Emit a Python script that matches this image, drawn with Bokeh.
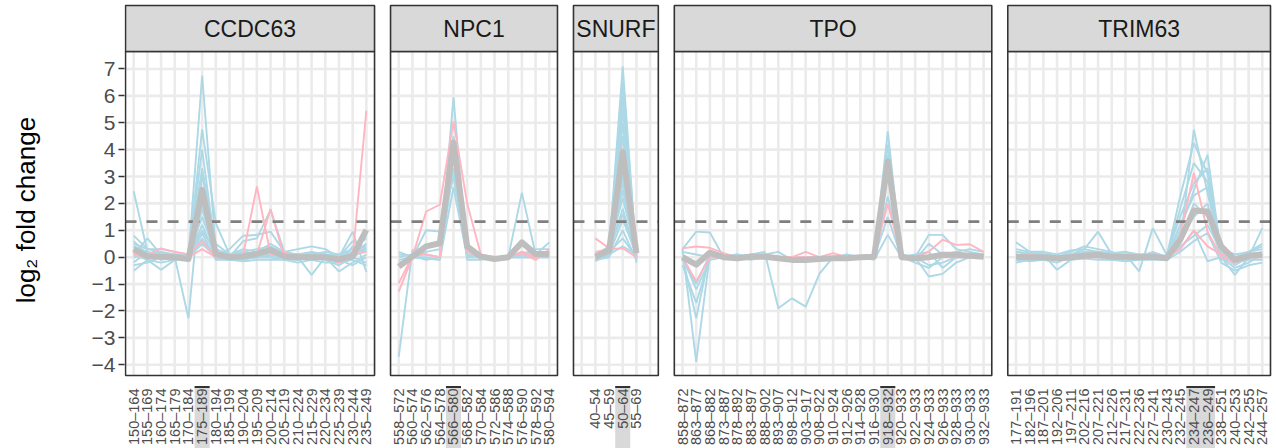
import math
from bokeh.plotting import figure
from bokeh.layouts import row
from bokeh.models import Range1d, FixedTicker
from bokeh.embed import file_html
from bokeh.resources import INLINE
from bokeh.core.properties import value

# ---------------- data ----------------
GENES = ["CCDC63", "NPC1", "SNURF", "TPO", "TRIM63"]

CCDC63_LABELS = ["150–164", "155–169", "160–174", "165–179", "170–184", "175–189",
                 "180–194", "185–199", "190–204", "195–209", "200–214", "205–219",
                 "210–224", "215–229", "220–234", "225–239", "230–244", "235–249"]
NPC1_LABELS = ["558–572", "560–574", "562–576", "564–578", "566–580", "568–582",
               "570–584", "572–586", "574–588", "576–590", "578–592", "580–594"]
SNURF_LABELS = ["40–54", "45–59", "50–64", "55–69"]
TPO_LABELS = ["858–872", "863–877", "868–882", "873–887", "878–892", "883–897",
              "888–902", "893–907", "898–912", "903–917", "908–922", "910–924",
              "912–926", "914–928", "916–930", "918–932", "920–933", "922–933",
              "924–933", "926–933", "928–933", "930–933", "932–933"]
TRIM63_LABELS = ["177–191", "182–196", "187–201", "192–206", "197–211", "202–216",
                 "207–221", "212–226", "217–231", "222–236", "227–241", "230–243",
                 "232–245", "234–247", "236–249", "238–251", "240–253", "242–255",
                 "244–257"]

HIGHLIGHT = {"CCDC63": ["175–189"], "NPC1": ["566–580"], "SNURF": ["50–64"],
             "TPO": ["918–932"], "TRIM63": ["234–247", "236–249"]}

CCDC63_BLUE = [
    [0.4, 0.1, 0.2, 0.1, 0.0, 6.75, 0.3, 0.1, 0.2, 0.1, 0.3, 0.1, 0.0, 0.1, 0.0, -0.1, 0.2, 0.3],
    [2.45, 0.2, 0.0, 0.1, 0.05, 4.75, 1.27, 0.1, 0.3, 0.2, 0.5, 0.2, 0.1, 0.2, 0.1, 0.0, 0.1, 0.5],
    [0.1, 0.7, 0.1, 0.0, -2.27, 3.1, 0.2, 0.0, 0.1, 0.0, 0.1, 0.0, 0.1, 0.0, 0.1, 0.0, 0.95, -0.55],
    [-0.5, -0.1, -0.47, -0.1, 0.0, 2.0, 0.0, 0.3, 0.8, 0.83, 0.95, 0.2, 0.0, -0.66, 0.0, -0.53, -0.2, 0.1],
    [0.8, 0.3, 0.3, 0.2, 0.1, 1.5, 0.1, 0.0, 0.6, 0.7, 1.76, 0.2, 0.3, 0.4, 0.3, 0.0, 0.6, 0.3],
    [0.2, 0.0, 0.0, 0.0, 0.0, 1.2, 0.0, 0.0, 0.0, 0.1, 0.3, 0.1, 0.0, 0.1, 0.2, 0.1, 0.3, 0.7],
    [-0.3, -0.2, 0.0, -0.1, -0.1, 0.9, -0.1, -0.1, -0.1, 0.0, 0.0, -0.1, -0.1, 0.0, -0.1, -0.3, 0.0, -0.2],
    [0.5, 0.3, 0.2, 0.0, 0.0, 3.3, 0.5, 0.1, 0.1, 0.0, 0.2, 0.1, 0.1, 0.1, 0.0, -0.2, 0.4, 0.2],
    [0.0, 0.1, 0.0, 0.0, 0.0, 0.5, 0.0, 0.0, 0.0, 0.0, 0.0, 0.0, 0.0, 0.0, 0.0, 0.0, 0.0, 0.3],
    [0.3, 0.0, 0.1, 0.0, 0.0, 2.5, 0.1, 0.0, 0.0, 0.0, 0.1, 0.0, -0.1, 0.0, 0.0, -0.1, 0.1, 0.5],
    [-0.2, 0.2, -0.1, 0.0, 0.0, 4.0, 0.2, 0.1, 0.0, 0.0, 0.2, 0.0, 0.0, 0.0, 0.0, -0.1, -0.3, 0.0],
    [0.6, 0.1, 0.0, 0.0, -0.1, 1.8, 0.0, 0.0, 0.1, 0.2, 0.0, 0.0, -0.1, 0.0, 0.0, 0.0, 0.2, 0.8],
    [0.1, -0.1, -0.2, -0.1, -0.05, 0.7, -0.05, -0.1, -0.15, -0.1, -0.1, -0.1, -0.2, -0.1, -0.2, -0.2, -0.1, -0.3],
    [0.4, 0.2, 0.1, 0.1, 0.05, 1.0, 0.15, 0.1, 0.2, 0.3, 0.4, 0.15, 0.1, 0.15, 0.1, 0.05, 0.2, 0.4],
]
CCDC63_PINK = [
    [0.2, 0.1, 0.33, 0.2, 0.1, 0.6, 0.0, 0.0, 0.1, 2.63, 0.1, 0.2, 0.0, 0.0, 0.0, -0.2, 0.0, 5.45],
    [0.1, 0.0, 0.0, 0.0, 0.0, 0.3, 0.0, 0.1, 0.1, 0.1, 1.79, 0.0, 0.0, 0.0, 0.0, 0.0, 0.1, 0.2],
]
CCDC63_MEAN = [0.30, 0.03, 0.02, 0.0, -0.07, 2.50, 0.12, 0.0, 0.03, 0.12, 0.27, 0.03,
               0.0, 0.0, 0.0, -0.08, 0.03, 1.02]

NPC1_BLUE = [
    [-3.7, 0.27, 0.1, 0.0, 5.95, 0.0, 0.0, 0.0, 0.0, 2.4, 0.1, 0.55],
    [0.2, 0.0, 1.0, 0.95, 3.0, 0.1, 0.0, 0.0, 0.0, 0.1, 0.3, 0.3],
    [0.1, 0.05, -0.1, 0.0, 3.8, -0.1, -0.1, 0.0, 0.0, 0.0, 0.0, 0.0],
    [-0.1, 0.0, 0.0, -0.1, 2.6, 0.0, 0.0, 0.0, 0.0, 0.1, 0.0, 0.1],
    [0.0, 0.1, 0.2, 0.3, 4.5, 0.3, 0.0, 0.0, 0.0, 0.2, 0.1, 0.2],
    [-0.2, 0.0, -0.05, -0.1, 3.3, 0.1, 0.0, 0.0, 0.0, 0.0, 0.0, 0.0],
]
NPC1_PINK = [
    [-1.28, 0.0, 1.7, 1.95, 5.05, 2.0, 0.1, 0.0, 0.0, 0.15, -0.1, 0.3],
    [-0.97, 0.05, 0.1, 0.0, 4.1, 0.2, 0.0, 0.0, 0.0, 0.2, 0.0, 0.2],
]
NPC1_MEAN = [-0.35, 0.02, 0.40, 0.52, 4.27, 0.40, 0.02, -0.07, 0.0, 0.55, 0.12, 0.12]

SNURF_BLUE = [
    [0.1, 0.3, 7.1, 0.0], [0.0, 0.2, 6.0, 0.1], [-0.1, 0.1, 5.0, -0.1],
    [0.1, 0.4, 4.5, 0.2], [0.0, 0.2, 3.5, 0.0], [-0.1, 0.1, 2.8, -0.2],
    [0.0, 0.3, 2.2, 0.1], [0.1, 0.2, 1.8, 0.0], [0.0, 0.1, 1.4, 0.1],
    [-0.1, 0.0, 1.0, -0.1], [0.0, 0.2, 0.7, 0.0], [0.1, 0.1, 0.4, 0.1],
    [0.0, 0.0, 5.5, -0.1], [-0.15, 0.1, 3.0, 0.0], [0.05, 0.15, 6.5, 0.05],
    [0.0, 0.25, 4.0, -0.05], [-0.05, 0.1, 2.5, 0.1], [0.1, 0.3, 1.6, 0.0],
]
SNURF_PINK = [[0.7, 0.33, 4.06, 0.1], [0.2, 0.3, 0.33, 0.0]]
SNURF_MEAN = [0.02, 0.25, 3.9, 0.15]

TPO_BLUE = [
    [0.3, -3.89, 0.1, 0.0, 0.0, 0.1, 0.0, 0.0, 0.0, -0.1, 0.0, 0.0, 0.0, 0.0, 0.0, 4.68, 0.0, -0.1, 0.0, 0.1, 0.0, 0.0, 0.0],
    [0.0, -2.27, 0.2, 0.0, 0.1, 0.0, 0.1, 0.2, -0.1, 0.0, 0.0, 0.0, 0.0, 0.0, 0.0, 3.8, 0.0, 0.0, 0.83, 0.83, 0.3, 0.2, 0.1],
    [-0.3, -1.7, 0.0, 0.0, 0.0, 0.1, 0.2, -1.9, -1.53, -1.84, -0.62, 0.0, 0.0, 0.0, 0.0, 2.26, 0.1, 0.0, -0.72, -0.62, -0.2, 0.0, 0.1],
    [0.3, 0.95, 0.92, 0.0, 0.0, 0.1, 0.1, 0.0, 0.0, 0.0, 0.0, 0.0, 0.0, 0.0, -0.1, 0.83, 0.0, -0.1, 0.5, 0.1, 0.2, 0.3, 0.2],
    [0.0, -1.2, -0.1, 0.0, -0.1, 0.0, 0.0, 0.0, 0.0, 0.0, 0.0, 0.0, 0.0, 0.0, 0.0, 3.2, 0.0, 0.0, -0.3, -0.2, 0.0, 0.0, 0.0],
    [0.2, 0.1, 0.0, 0.05, 0.1, 0.0, 0.1, -0.1, -0.1, -0.1, -0.1, 0.0, 0.1, 0.0, 0.0, 4.2, 0.0, -0.2, -0.4, 0.0, 0.1, 0.1, 0.0],
    [-0.1, -1.0, 0.1, 0.0, 0.0, -0.1, 0.0, 0.0, 0.0, 0.0, 0.0, 0.0, 0.0, 0.0, 0.0, 1.5, 0.0, 0.1, 0.2, -0.4, 0.0, 0.1, 0.1],
]
TPO_PINK = [
    [0.33, 0.4, 0.35, 0.15, 0.0, 0.0, 0.1, 0.0, 0.0, 0.2, 0.0, 0.15, 0.0, 0.0, 0.1, 3.3, 0.0, 0.0, 0.2, 0.65, 0.46, 0.48, 0.2],
    [0.0, -0.9, 0.0, 0.0, 0.0, 0.0, 0.0, 0.0, 0.0, 0.0, 0.0, 0.0, 0.0, 0.0, 0.0, 2.0, 0.0, 0.0, 0.0, 0.0, 0.0, 0.0, 0.0],
]
TPO_MEAN = [0.0, -0.28, 0.17, 0.0, -0.04, 0.02, 0.02, -0.04, -0.1, -0.1, -0.07, -0.04,
            -0.04, 0.0, 0.02, 3.56, 0.0, -0.04, 0.0, 0.09, 0.09, 0.05, 0.02]

TRIM63_BLUE = [
    [0.1, 0.0, 0.1, 0.0, 0.1, 0.2, 0.1, 0.0, 0.0, 0.0, 0.1, 0.0, 0.5, 4.74, 2.38, 0.2, -0.1, 0.0, 0.1],
    [0.0, 0.1, 0.0, -0.1, 0.0, 0.1, 0.2, 0.1, 0.0, 0.0, 0.0, 0.0, 1.0, 2.5, 3.81, 0.1, -0.3, 0.0, 0.0],
    [0.55, 0.2, 0.2, 0.0, 0.1, 0.3, 0.95, 0.1, 0.2, 0.0, 0.2, 0.0, 2.26, 4.25, 3.1, 0.0, -0.66, 0.0, 1.08],
    [-0.1, 0.0, 0.1, -0.47, -0.1, 0.0, 0.0, 0.0, 0.1, -0.53, 1.08, 0.1, 1.5, 2.76, 3.3, 0.1, -0.2, 0.2, 0.3],
    [0.2, 0.1, 0.0, 0.0, 0.2, 0.4, 0.3, 0.2, 0.0, 0.1, 0.0, 0.0, 0.8, 1.5, 2.0, -0.1, 0.0, 0.1, 0.2],
    [0.0, 0.0, 0.0, 0.0, 0.0, 0.0, 0.1, 0.0, 0.0, 0.0, 0.0, 0.0, 0.4, 0.8, 1.2, 0.2, -0.1, 0.0, 0.0],
    [-0.2, -0.1, -0.1, -0.2, 0.0, 0.0, 0.0, -0.1, -0.1, 0.0, 0.0, 0.0, 0.3, 1.0, -0.15, 0.0, -0.2, -0.1, -0.1],
    [0.3, 0.2, 0.1, 0.0, 0.1, 0.2, 0.2, 0.1, 0.1, 0.0, 0.1, 0.0, 1.8, 3.5, 2.8, 0.2, 0.0, 0.2, 0.4],
    [0.0, 0.1, 0.1, 0.0, 0.0, 0.1, 0.0, 0.0, 0.0, 0.0, 0.0, 0.0, 0.6, 2.0, 1.5, 0.0, -0.4, -0.2, 0.1],
    [-0.1, -0.15, -0.1, -0.1, -0.1, -0.05, -0.1, -0.1, -0.15, -0.1, -0.1, -0.1, 0.2, 0.6, 0.9, -0.2, -0.5, -0.3, -0.2],
    [0.2, 0.15, 0.2, 0.1, 0.25, 0.3, 0.2, 0.15, 0.2, 0.1, 0.15, 0.05, 1.2, 2.3, 2.6, 0.3, 0.1, 0.2, 0.5],
]
TRIM63_PINK = [
    [0.1, 0.0, 0.0, 0.0, 0.0, 0.1, 0.0, 0.0, 0.0, 0.0, 0.0, 0.0, 0.8, 3.13, 0.95, 0.0, -0.2, 0.0, 0.1],
    [0.0, 0.1, 0.0, 0.0, 0.0, 0.0, 0.0, 0.1, 0.0, 0.0, 0.0, 0.0, 0.3, 1.0, 0.4, 0.1, 0.0, 0.0, 0.0],
]
TRIM63_MEAN = [0.02, 0.0, 0.0, -0.04, 0.0, 0.05, 0.09, 0.02, 0.02, 0.0, 0.02, -0.04,
               0.65, 1.74, 1.70, 0.40, -0.1, 0.05, 0.09]

THRESHOLD = 1.32
Y_TICKS = list(range(-4, 8))
Y_TITLE = "log₂ fold change"

PANELS = {
    "CCDC63": (CCDC63_LABELS, CCDC63_BLUE, CCDC63_PINK, CCDC63_MEAN),
    "NPC1": (NPC1_LABELS, NPC1_BLUE, NPC1_PINK, NPC1_MEAN),
    "SNURF": (SNURF_LABELS, SNURF_BLUE, SNURF_PINK, SNURF_MEAN),
    "TPO": (TPO_LABELS, TPO_BLUE, TPO_PINK, TPO_MEAN),
    "TRIM63": (TRIM63_LABELS, TRIM63_BLUE, TRIM63_PINK, TRIM63_MEAN),
}

# ---------------- layout / style ----------------
W, H = 1276, 448
TITLE_W = 60                      # width of the strip holding the y-axis title
TITLE_X_PX, TITLE_Y_PX = 25, 208  # centre of the y-axis title (canvas px)
FRAME_L, FRAME_R, FRAME_T, FRAME_B = 124, 1272, 3, 448
PANEL_L_PX, PANEL_R_PX = 125, 1270
PANEL_T_PX, PANEL_B_PX = 51, 375
STRIP_T_PX = 5
LABEL_T_PX = 388
HL_T_PX = 386.5
GAP_PX = 16
EXPAND = 0.6
Y_LO, Y_HI = -4.40, 7.65
SLOT_PAD = {"SNURF": 1}

BLUE = "#ADD8E6"
PINK = "#FFB6C1"
MEANC = "#BEBEBE"
GRIDC = "#EBEBEB"
DARK = "#333333"
FONT = "Liberation Sans"

px_per = (PANEL_B_PX - PANEL_T_PX) / (Y_HI - Y_LO)


def y_of_px(px):
    return Y_HI - (px - PANEL_T_PX) / px_per


nslots = [len(PANELS[g][0]) + 2 * SLOT_PAD.get(g, 0) for g in GENES]
u = ((PANEL_R_PX - PANEL_L_PX) - GAP_PX * (len(GENES) - 1)) / (sum(nslots) + len(GENES) * (2 * EXPAND - 1))

# ---- y-axis title strip ----
t = figure(width=TITLE_W, height=H, output_backend="svg", toolbar_location=None,
           x_axis_location=None, y_axis_location=None,
           x_range=Range1d(0, TITLE_W), y_range=Range1d(H, 0),
           min_border=0)
t.outline_line_color = None
t.xgrid.visible = False
t.ygrid.visible = False
t.text(x=[TITLE_X_PX], y=[TITLE_Y_PX], text=[Y_TITLE], angle=math.pi / 2,
       text_font=value(FONT), text_font_size="26px", text_color="black",
       text_align="center", text_baseline="middle")

# ---- main panel figure ----
p = figure(width=W - TITLE_W, height=H, output_backend="svg", toolbar_location=None,
           x_axis_location=None, y_axis_location="left",
           x_range=Range1d(FRAME_L - PANEL_L_PX, FRAME_R - PANEL_L_PX),
           y_range=Range1d(y_of_px(FRAME_B), y_of_px(FRAME_T)),
           min_border_left=FRAME_L - TITLE_W, min_border_right=W - FRAME_R,
           min_border_top=FRAME_T, min_border_bottom=H - FRAME_B)
p.outline_line_color = None
p.xgrid.visible = False
p.ygrid.visible = False
p.background_fill_color = "white"
p.border_fill_color = "white"

strip_top = y_of_px(STRIP_T_PX)
label_top = y_of_px(LABEL_T_PX)
hl_top = y_of_px(HL_T_PX)
bottom = y_of_px(FRAME_B + 5)

grid_x0, grid_x1, grid_y0, grid_y1 = [], [], [], []
blue_xs, blue_ys, pink_xs, pink_ys, mean_xs, mean_ys = [], [], [], [], [], []
thr_x0, thr_x1 = [], []
pan_l, pan_r = [], []
strip_x, lab_x, lab_text = [], [], []
hl_l, hl_r = [], []

left = 0.0
for g, n in zip(GENES, nslots):
    labels, blues, pinks, mean = PANELS[g]
    pad = SLOT_PAD.get(g, 0)
    width = (n - 1 + 2 * EXPAND) * u
    right = left + width
    slots = [left + (EXPAND + j) * u for j in range(n)]
    xs = slots[pad:pad + len(labels)]
    for sx in slots:
        grid_x0.append(sx); grid_x1.append(sx); grid_y0.append(Y_LO); grid_y1.append(Y_HI)
    for tk in Y_TICKS:
        grid_x0.append(left); grid_x1.append(right); grid_y0.append(tk); grid_y1.append(tk)
    for ys in blues:
        blue_xs.append(xs); blue_ys.append(ys)
    for ys in pinks:
        pink_xs.append(xs); pink_ys.append(ys)
    mean_xs.append(xs); mean_ys.append(mean)
    thr_x0.append(left); thr_x1.append(right)
    pan_l.append(left); pan_r.append(right)
    strip_x.append((left + right) / 2)
    lab_x.extend(xs); lab_text.extend(labels)
    hl = [xs[i] for i, lb in enumerate(labels) if lb in HIGHLIGHT.get(g, [])]
    if hl:
        hl_l.append(min(hl) - 0.55 * u); hl_r.append(max(hl) + 0.55 * u)
    left = right + GAP_PX

# grid
p.segment(x0=grid_x0, x1=grid_x1, y0=grid_y0, y1=grid_y1, line_color=GRIDC, line_width=2.6)
# series
p.multi_line(xs=blue_xs, ys=blue_ys, line_color=BLUE, line_width=1.9)
p.multi_line(xs=pink_xs, ys=pink_ys, line_color=PINK, line_width=1.9)
p.segment(x0=thr_x0, x1=thr_x1, y0=[THRESHOLD] * len(thr_x0), y1=[THRESHOLD] * len(thr_x0),
          line_color="#7F7F7F", line_width=2.8, line_dash="11 10")
p.multi_line(xs=mean_xs, ys=mean_ys, line_color=MEANC, line_width=6, line_join="round")
# panel borders
p.quad(left=pan_l, right=pan_r, bottom=[Y_LO] * 5, top=[Y_HI] * 5,
       fill_color=None, line_color=DARK, line_width=1.6)
# strips
p.quad(left=pan_l, right=pan_r, bottom=[Y_HI] * 5, top=[strip_top] * 5,
       fill_color="#D9D9D9", line_color=DARK, line_width=1.6)
p.text(x=strip_x, y=[(Y_HI + strip_top) / 2] * 5, text=GENES,
       text_font=value(FONT), text_font_size="23px", text_color="#1A1A1A",
       text_align="center", text_baseline="middle")
# highlighted label backgrounds
p.quad(left=hl_l, right=hl_r, bottom=[bottom] * len(hl_l), top=[hl_top] * len(hl_l),
       fill_color="#D9D9D9", line_color=None)
p.segment(x0=hl_l, x1=hl_r, y0=[hl_top] * len(hl_l), y1=[hl_top] * len(hl_l),
          line_color=DARK, line_width=2)
# x tick labels
p.text(x=lab_x, y=[label_top] * len(lab_x), text=lab_text, angle=math.pi / 2,
       text_font=value(FONT), text_font_size="14.5px", text_color="#4D4D4D",
       text_align="right", text_baseline="middle")

# y axis
ax = p.yaxis[0]
ax.ticker = FixedTicker(ticks=Y_TICKS)
ax.major_label_overrides = {tk: ("−%d" % (-tk) if tk < 0 else str(tk)) for tk in Y_TICKS}
ax.axis_line_color = None
ax.major_tick_out = 6
ax.major_tick_in = 0
ax.minor_tick_out = 0
ax.minor_tick_in = 0
ax.major_tick_line_color = DARK
ax.major_tick_line_width = 1.5
ax.major_label_standoff = 3
ax.major_label_text_font = FONT
ax.major_label_text_font_size = "21px"
ax.major_label_text_color = "#4D4D4D"

layout = row(t, p, spacing=0)
open("out.html", "w").write(file_html(layout, INLINE))
